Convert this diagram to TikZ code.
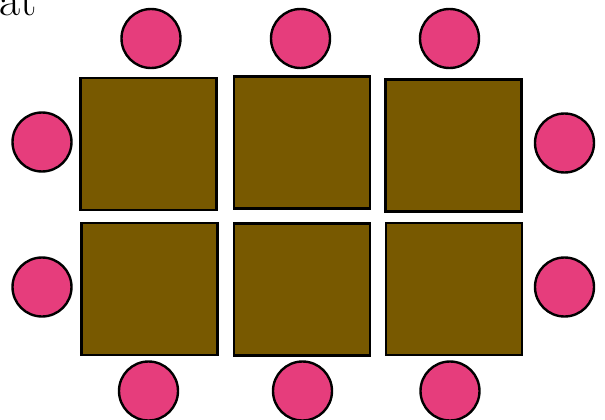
\documentclass[tikz,border=0pt]{standalone}
\definecolor{tablebrown}{RGB}{120,89,0}
\definecolor{seatpink}{RGB}{230,61,124}
\tikzset{
  tablebox/.style={draw=black, fill=tablebrown, line width=2.6pt, rectangle,
    minimum width=136pt, minimum height=132pt, inner sep=0pt},
  seat/.style={draw=black, fill=seatpink, line width=2.4pt, circle,
    minimum size=59pt, inner sep=0pt}
}
\begin{document}
\begin{tikzpicture}[x=1pt, y=-1pt]
        \useasboundingbox (0,0) rectangle (605,420);
        % label, cut at the top edge
        \node[anchor=base west, inner sep=0pt, font=\fontsize{46}{52}\selectfont] (lbl) at (-1,15.5) {at};
        % tables
        \node[tablebox] (t1) at (148.5,144) {};
        \node[tablebox] (t2) at (302,142.5) {};
        \node[tablebox] (t3) at (453.5,145.5) {};
        \node[tablebox] (t4) at (149.5,289) {};
        \node[tablebox] (t5) at (302,289.5) {};
        \node[tablebox] (t6) at (454,289) {};
        % seats
        \node[seat] (s1) at (151,38.5) {};
        \node[seat] (s2) at (300.5,38.5) {};
        \node[seat] (s3) at (449.5,38.5) {};
        \node[seat] (s4) at (42,142) {};
        \node[seat] (s5) at (564.5,143) {};
        \node[seat] (s6) at (42,287) {};
        \node[seat] (s7) at (564.5,287) {};
        \node[seat] (s8) at (148.5,391) {};
        \node[seat] (s9) at (302.5,391) {};
        \node[seat] (s10) at (450,391) {};
\end{tikzpicture}
\end{document}
